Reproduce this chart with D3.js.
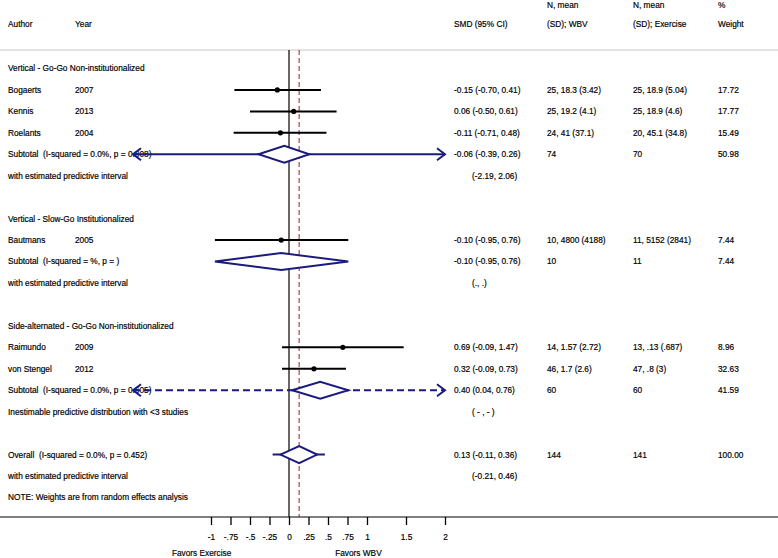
<!DOCTYPE html>
<html><head><meta charset="utf-8">
<script src="https://cdn.jsdelivr.net/npm/d3@7/dist/d3.min.js"></script>
<style>
html,body{margin:0;padding:0;background:#fff;}
text{font-family:"Liberation Sans",Arial,sans-serif;font-size:8.3px;fill:#000;stroke:#000;stroke-width:0.18px;white-space:pre;}
</style></head>
<body>
<svg id="c" width="778" height="558"></svg>
<script>
// ---- data ----
const rowKind = ["group","study","study","study","subtotal","pi","blank","group","study","subtotal","pi","blank","group","study","study","subtotal","pi","blank","overall","pi","note"];
const rowLabel = ["Vertical - Go-Go Non-institutionalized","Bogaerts","Kennis","Roelants","Subtotal  (I-squared = 0.0%, p = 0.808)","with estimated predictive interval","",
  "Vertical - Slow-Go Institutionalized","Bautmans","Subtotal  (I-squared = %, p = )","with estimated predictive interval","",
  "Side-alternated - Go-Go Non-institutionalized","Raimundo","von Stengel","Subtotal  (I-squared = 0.0%, p = 0.605)","Inestimable predictive distribution with <3 studies","",
  "Overall  (I-squared = 0.0%, p = 0.452)","with estimated predictive interval","NOTE: Weights are from random effects analysis"];
const rowYear = ["","2007","2013","2004","","","","","2005","","","","","2009","2012","","","","","",""];
const est = [null,-0.15,0.06,-0.11,-0.06,null,null,null,-0.10,-0.10,null,null,null,0.69,0.32,0.40,null,null,0.13,null,null];
const ciLo = [null,-0.70,-0.50,-0.71,-0.39,null,null,null,-0.95,-0.95,null,null,null,-0.09,-0.09,0.04,null,null,-0.11,null,null];
const ciHi = [null,0.41,0.61,0.48,0.26,null,null,null,0.76,0.76,null,null,null,1.47,0.73,0.76,null,null,0.36,null,null];
// predictive intervals on subtotal/overall rows (null = none, "inest" = inestimable)
const piLo = [null,null,null,null,-2.19,null,null,null,null,null,null,null,null,null,null,"inest",null,null,-0.21,null,null];
const piHi = [null,null,null,null,2.06,null,null,null,null,null,null,null,null,null,null,"inest",null,null,0.46,null,null];
const ciText = ["","-0.15 (-0.70, 0.41)","0.06 (-0.50, 0.61)","-0.11 (-0.71, 0.48)","-0.06 (-0.39, 0.26)","(-2.19, 2.06)","",
  "","-0.10 (-0.95, 0.76)","-0.10 (-0.95, 0.76)","(., .)","",
  "","0.69 (-0.09, 1.47)","0.32 (-0.09, 0.73)","0.40 (0.04, 0.76)","( - , - )","",
  "0.13 (-0.11, 0.36)","(-0.21, 0.46)",""];
const wbvText = ["","25, 18.3 (3.42)","25, 19.2 (4.1)","24, 41 (37.1)","74","","","","10, 4800 (4188)","10","","","","14, 1.57 (2.72)","46, 1.7 (2.6)","60","","","144","",""];
const exText = ["","25, 18.9 (5.04)","25, 18.9 (4.6)","20, 45.1 (34.8)","70","","","","11, 5152 (2841)","11","","","","13, .13 (.687)","47, .8 (3)","60","","","141","",""];
const weightText = ["","17.72","17.77","15.49","50.98","","","","7.44","7.44","","","","8.96","32.63","41.59","","","100.00","",""];
const tickVals = [-1,-0.75,-0.5,-0.25,0,0.25,0.5,0.75,1,1.5,2];
const tickLabels = ["-1","-.75","-.5","-.25","0",".25",".5",".75","1","1.5","2"];
const overallEst = 0.13;
const axisRange = [-2, 2];

// ---- layout ----
const svg = d3.select("#c");
const x = d3.scaleLinear().domain([0,1]).range([289,367]);
const y = d3.scaleLinear().domain([0,20]).range([68.5,497.5]);
const navy = "#1b1b7e";
const topY = 50, axY = 517;
const colAuthor = 8, colYear = 75, colCI = 454, colPI = 472, colWBV = 547, colEx = 633, colW = 718;

function txt(g, xx, yy, s, anchor){ return g.append("text").attr("x",xx).attr("y",yy).attr("dy","0.35em").attr("text-anchor",anchor||"start").attr("xml:space","preserve").text(s); }

// header
const hdr = svg.append("g");
txt(hdr,colAuthor,24,"Author"); txt(hdr,colYear,24,"Year");
txt(hdr,colCI,24,"SMD (95% CI)");
txt(hdr,colWBV,5,"N, mean"); txt(hdr,colWBV,24,"(SD); WBV");
txt(hdr,colEx,5,"N, mean"); txt(hdr,colEx,24,"(SD); Exercise");
txt(hdr,colW,5,"%"); txt(hdr,colW,24,"Weight");
svg.append("line").attr("x1",0).attr("x2",778).attr("y1",topY).attr("y2",topY).attr("stroke","#c8c8c8").attr("stroke-width",1.2);

// reference lines
svg.append("line").attr("x1",x(0)).attr("x2",x(0)).attr("y1",topY).attr("y2",axY).attr("stroke","#000").attr("stroke-width",1.2);
svg.append("line").attr("x1",x(overallEst)).attr("x2",x(overallEst)).attr("y1",topY).attr("y2",axY).attr("stroke","#a83232").attr("stroke-width",1.1).attr("stroke-dasharray","5,3");

// text columns
const tg = svg.append("g");
rowKind.forEach((k,i)=>{
  const yy = y(i);
  if(rowLabel[i]) txt(tg,colAuthor,yy,rowLabel[i]);
  if(rowYear[i]) txt(tg,colYear,yy,rowYear[i]);
  if(ciText[i]) txt(tg,(k==="pi")?colPI:colCI,yy,ciText[i]);
  if(wbvText[i]) txt(tg,colWBV,yy,wbvText[i]);
  if(exText[i]) txt(tg,colEx,yy,exText[i]);
  if(weightText[i]) txt(tg,colW,yy,weightText[i]);
});

// marks
const mg = svg.append("g");
function arrow(xx, yy, dir, col){
  mg.append("path").attr("d",`M${xx-dir*8},${yy-6}L${xx},${yy}L${xx-dir*8},${yy+6}`)
    .attr("fill","none").attr("stroke",col).attr("stroke-width",2);
}
function clippedLine(lo, hi, yy, dashed){
  const a = Math.max(lo, axisRange[0]), b = Math.min(hi, axisRange[1]);
  mg.append("line").attr("x1",x(a)).attr("x2",x(b)).attr("y1",yy).attr("y2",yy)
    .attr("stroke",navy).attr("stroke-width",2).attr("stroke-dasharray",dashed?"7,4":null);
  if(lo < axisRange[0]) arrow(x(axisRange[0]), yy, -1, navy);
  if(hi > axisRange[1]) arrow(x(axisRange[1]), yy, 1, navy);
}
rowKind.forEach((k,i)=>{
  const yy = y(i);
  if(k==="study"){
    mg.append("line").attr("x1",x(ciLo[i])).attr("x2",x(ciHi[i])).attr("y1",yy).attr("y2",yy).attr("stroke","#000").attr("stroke-width",2);
    mg.append("circle").attr("cx",x(est[i])).attr("cy",yy).attr("r",2.6).attr("fill","#000");
  }
  if(k==="subtotal"||k==="overall"){
    if(piLo[i]==="inest") clippedLine(-Infinity, Infinity, yy, true);
    else if(piLo[i]!==null) clippedLine(piLo[i], piHi[i], yy, false);
    const h = 8.5;
    mg.append("path").attr("d",`M${x(ciLo[i])},${yy}L${x(est[i])},${yy-h}L${x(ciHi[i])},${yy}L${x(est[i])},${yy+h}Z`)
      .attr("fill","#fff").attr("stroke",navy).attr("stroke-width",2);
  }
});

// axis
svg.append("line").attr("x1",0).attr("x2",778).attr("y1",axY).attr("y2",axY).attr("stroke","#000").attr("stroke-width",1.2);
const ax = d3.axisBottom(x).tickValues(tickVals).tickFormat((d,i)=>tickLabels[i]).tickSize(8).tickPadding(9);
const axg = svg.append("g").attr("transform",`translate(0,${axY})`).call(ax);
axg.select(".domain").remove();
axg.selectAll(".tick line").attr("stroke","#000").attr("stroke-width",1.3);
axg.selectAll(".tick text").style("font-family","Liberation Sans, Arial, sans-serif").style("font-size","8.3px").attr("fill","#000").attr("stroke","#000").attr("stroke-width",0.18);
txt(svg,x(-1.12),553,"Favors Exercise","middle");
txt(svg,x(0.89),553,"Favors WBV","middle");
</script>
</body></html>
